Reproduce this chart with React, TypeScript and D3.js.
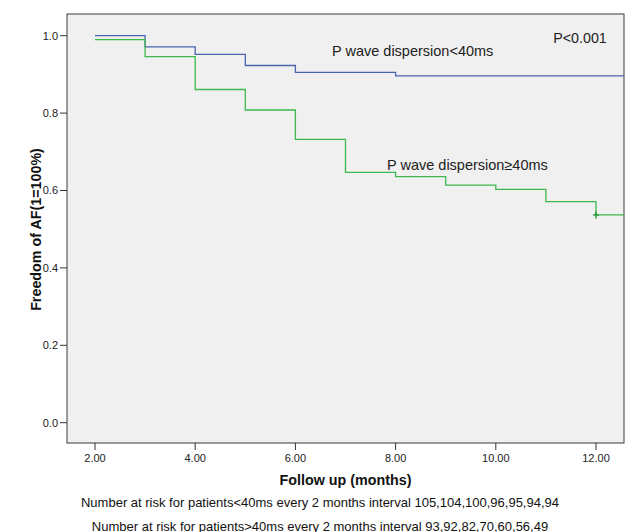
import React from "react";
import * as d3 from "d3";

const months = [2, 3, 4, 5, 6, 7, 8, 9, 10, 11, 12];
const survivalUnder40 = [1.0, 0.971, 0.952, 0.923, 0.905, 0.905, 0.896, 0.896, 0.896, 0.896, 0.896];
const survivalOver40 = [0.99, 0.946, 0.861, 0.808, 0.732, 0.647, 0.636, 0.614, 0.603, 0.571, 0.537];
const censoredOver40 = [12];
const xTicks = [2, 4, 6, 8, 10, 12];
const yTicks = [0, 0.2, 0.4, 0.6, 0.8, 1.0];
const atRiskUnder40 = [105, 104, 100, 96, 95, 94, 94];
const atRiskOver40 = [93, 92, 82, 70, 60, 56, 49];

const W = 637;
const H = 532;
const plot = { left: 67, right: 624, top: 14, bottom: 443 };

export default function App() {
  const x = d3.scaleLinear().domain([2, 12]).range([95, 596]);
  const y = d3.scaleLinear().domain([0, 1]).range([422.7, 35.7]);
  const xEnd = x.invert(plot.right);

  const line = d3
    .line<[number, number]>()
    .x((d) => x(d[0]))
    .y((d) => y(d[1]))
    .curve(d3.curveStepAfter);

  const mk = (vals: number[]): [number, number][] => {
    const pts: [number, number][] = months.map((m, i) => [m, vals[i]]);
    pts.push([xEnd, vals[vals.length - 1]]);
    return pts;
  };

  const font = "'Liberation Sans', Arial, sans-serif";
  const narrow = "'Liberation Sans Narrow', 'Arial Narrow', 'Liberation Sans', Arial, sans-serif";

  return (
    <svg
      width={W}
      height={H}
      style={{ position: "absolute", left: 0, top: 0, background: "#fff" }}
      fontFamily={font}
    >
      <rect x={0} y={0} width={W} height={H} fill="#fff" />
      <rect
        x={plot.left}
        y={plot.top}
        width={plot.right - plot.left}
        height={plot.bottom - plot.top}
        fill="#f0f0f0"
        stroke="#3a3a3a"
        strokeWidth={1}
      />
      <defs>
        <clipPath id="plotclip">
          <rect x={plot.left} y={plot.top} width={plot.right - plot.left} height={plot.bottom - plot.top} />
        </clipPath>
      </defs>
      <g clipPath="url(#plotclip)">
        <path d={line(mk(survivalUnder40)) || ""} fill="none" stroke="#4a63b0" strokeWidth={1.3} />
        <path d={line(mk(survivalOver40)) || ""} fill="none" stroke="#3cb84c" strokeWidth={1.3} />
        {censoredOver40.map((c) => {
          const idx = months.indexOf(c);
          const v = survivalOver40[idx];
          return (
            <g key={c}>
              <line x1={x(c)} x2={x(c)} y1={y(v) - 3.5} y2={y(v) + 3.5} stroke="#2a9a3a" strokeWidth={1.5} />
              <line x1={x(c) - 3} x2={x(c) + 3} y1={y(v)} y2={y(v)} stroke="#2a9a3a" strokeWidth={1.5} />
            </g>
          );
        })}
      </g>
      {yTicks.map((t) => (
        <g key={t}>
          <line x1={plot.left - 7} x2={plot.left} y1={y(t)} y2={y(t)} stroke="#333" strokeWidth={1} />
          <text x={plot.left - 9} y={y(t)} dy="0.35em" textAnchor="end" fontSize={11} fill="#222">
            {d3.format(".1f")(t)}
          </text>
        </g>
      ))}
      {xTicks.map((t) => (
        <g key={t}>
          <line x1={x(t)} x2={x(t)} y1={plot.bottom} y2={plot.bottom + 7} stroke="#333" strokeWidth={1} />
          <text x={x(t)} y={plot.bottom + 19} textAnchor="middle" fontSize={11} fill="#222">
            {d3.format(".2f")(t)}
          </text>
        </g>
      ))}
      <text
        transform={`translate(41,229.5) rotate(-90)`}
        textAnchor="middle"
        fontSize={14.3}
        fontWeight="bold"
        fill="#111"
      >
        Freedom of AF(1=100%)
      </text>
      <text x={(plot.left + plot.right) / 2} y={485} textAnchor="middle" fontSize={14.3} fontWeight="bold" fill="#111">
        Follow up (months)
      </text>
      <text x={580} y={43} textAnchor="middle" fontSize={14.3} fill="#222">
        P&lt;0.001
      </text>
      <text x={332} y={56} fontSize={14.5} fill="#222">
        P wave dispersion&lt;40ms
      </text>
      <text x={387} y={170} fontSize={14.5} fill="#222">
        P wave dispersion≥40ms
      </text>
      <text x={320} y={507} textAnchor="middle" fontSize={13} fontFamily={narrow} fill="#111">
        {`Number at risk for patients<40ms every 2 months interval ${atRiskUnder40.join(",")}`}
      </text>
      <text x={320} y={531} textAnchor="middle" fontSize={13} fontFamily={narrow} fill="#111">
        {`Number at risk for patients>40ms every 2 months interval ${atRiskOver40.join(",")}`}
      </text>
    </svg>
  );
}
